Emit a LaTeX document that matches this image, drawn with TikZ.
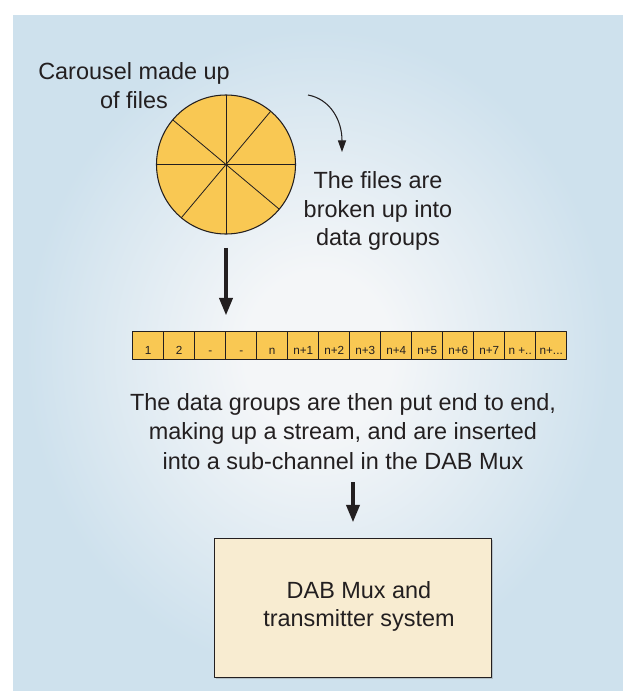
\documentclass[tikz,border=0pt]{standalone}
\usepackage{fontspec}
\setmainfont{Liberation Sans}
\usetikzlibrary{arrows.meta,shadows}

\definecolor{panelblue}{RGB}{206,225,237}
\definecolor{panelglow}{RGB}{244,246,248}
\definecolor{filegold}{RGB}{249,200,83}
\definecolor{muxcream}{RGB}{248,236,209}
\definecolor{inkgray}{RGB}{35,31,32}
\pgfdeclareradialshading{panelshade}{\pgfpoint{0bp}{0bp}}{color(0bp)=(panelglow); color(6bp)=(panelglow); color(24bp)=(panelblue); color(50bp)=(panelblue)}

\begin{document}
\begin{tikzpicture}[x=0.03cm,y=-0.03cm,line join=round,
  note/.style={align=center,inner sep=0pt,text=inkgray,font=\fontsize{20}{24.5}\selectfont},
  cell/.style={draw=inkgray,line width=0.8pt,fill=filegold,inner sep=0pt,minimum width=0.93cm,
    text height=0.69cm,text depth=0.15cm,text=inkgray,font=\fontsize{10}{12}\selectfont},
  fatarrow/.style={-{Triangle[length=15pt,width=11pt]},line width=3.4pt,draw=inkgray},
  spinarrow/.style={-{Triangle[length=10pt,width=7pt]},line width=0.9pt,draw=inkgray}]
\useasboundingbox (0,0) rectangle (623,691);
\fill[white] (0,0) rectangle (623,691);
\shade[shading=panelshade] (13,15) rectangle (623,691);
% carousel
\node[circle,draw=inkgray,line width=0.9pt,fill=filegold,minimum size=4.17cm,inner sep=0pt,outer sep=0pt] (carousel) at (226,164.5) {};
\draw[inkgray,line width=0.7pt] (carousel.0) -- (carousel.180);
\draw[inkgray,line width=0.7pt] (carousel.90) -- (carousel.270);
\draw[inkgray,line width=0.7pt] (carousel.50) -- (carousel.230);
\draw[inkgray,line width=0.7pt] (carousel.140) -- (carousel.320);
\node[note,font=\fontsize{20}{24.1}\selectfont] (carouselnote) at (134,85.7) {Carousel made up\\of files};
\coordinate (spinstart) at (308,95);
\coordinate (spinend) at (342,152);
\draw[spinarrow] (spinstart) .. controls (330,99) and (342,120) .. (spinend);
\node[note] (filesnote) at (378,211) {The files are\\broken up into\\data groups};
% stream of data groups
\node[cell] (cell1) at (148.2,345) {1};
\node[cell] (cell2) at (179.2,345) {2};
\node[cell] (cell3) at (210.2,345) {-};
\node[cell] (cell4) at (241.2,345) {-};
\node[cell] (cell5) at (272.2,345) {n};
\node[cell] (cell6) at (303.2,345) {n+1};
\node[cell] (cell7) at (334.2,345) {n+2};
\node[cell] (cell8) at (365.2,345) {n+3};
\node[cell] (cell9) at (396.2,345) {n+4};
\node[cell] (cell10) at (427.2,345) {n+5};
\node[cell] (cell11) at (458.2,345) {n+6};
\node[cell] (cell12) at (489.2,345) {n+7};
\node[cell] (cell13) at (520.2,345) {n +..};
\node[cell] (cell14) at (551.2,345) {n+...};
\draw[fatarrow,shorten <=11.9pt,shorten >=12.8pt] (carousel.south) -- (carousel.south |- cell4.north);
\node[note,font=\fontsize{20}{25.5}\selectfont] (insertnote) at (343,431.5) {The data groups are then put end to end,\\making up a stream, and are inserted\\into a sub-channel in the DAB Mux};
% mux
\node[draw=inkgray,line width=0.8pt,fill=muxcream,minimum width=8.32cm,minimum height=4.15cm,
  drop shadow={shadow xshift=1pt,shadow yshift=-1.2pt,opacity=0.35}] (muxbox) at (353,608) {};
\node[note] (muxlabel) at (359,606.5) {DAB Mux and\\transmitter system};
\draw[fatarrow,shorten <=10.2pt,shorten >=13.6pt] (insertnote.south -| muxbox.north) -- (muxbox.north);
\end{tikzpicture}
\end{document}
